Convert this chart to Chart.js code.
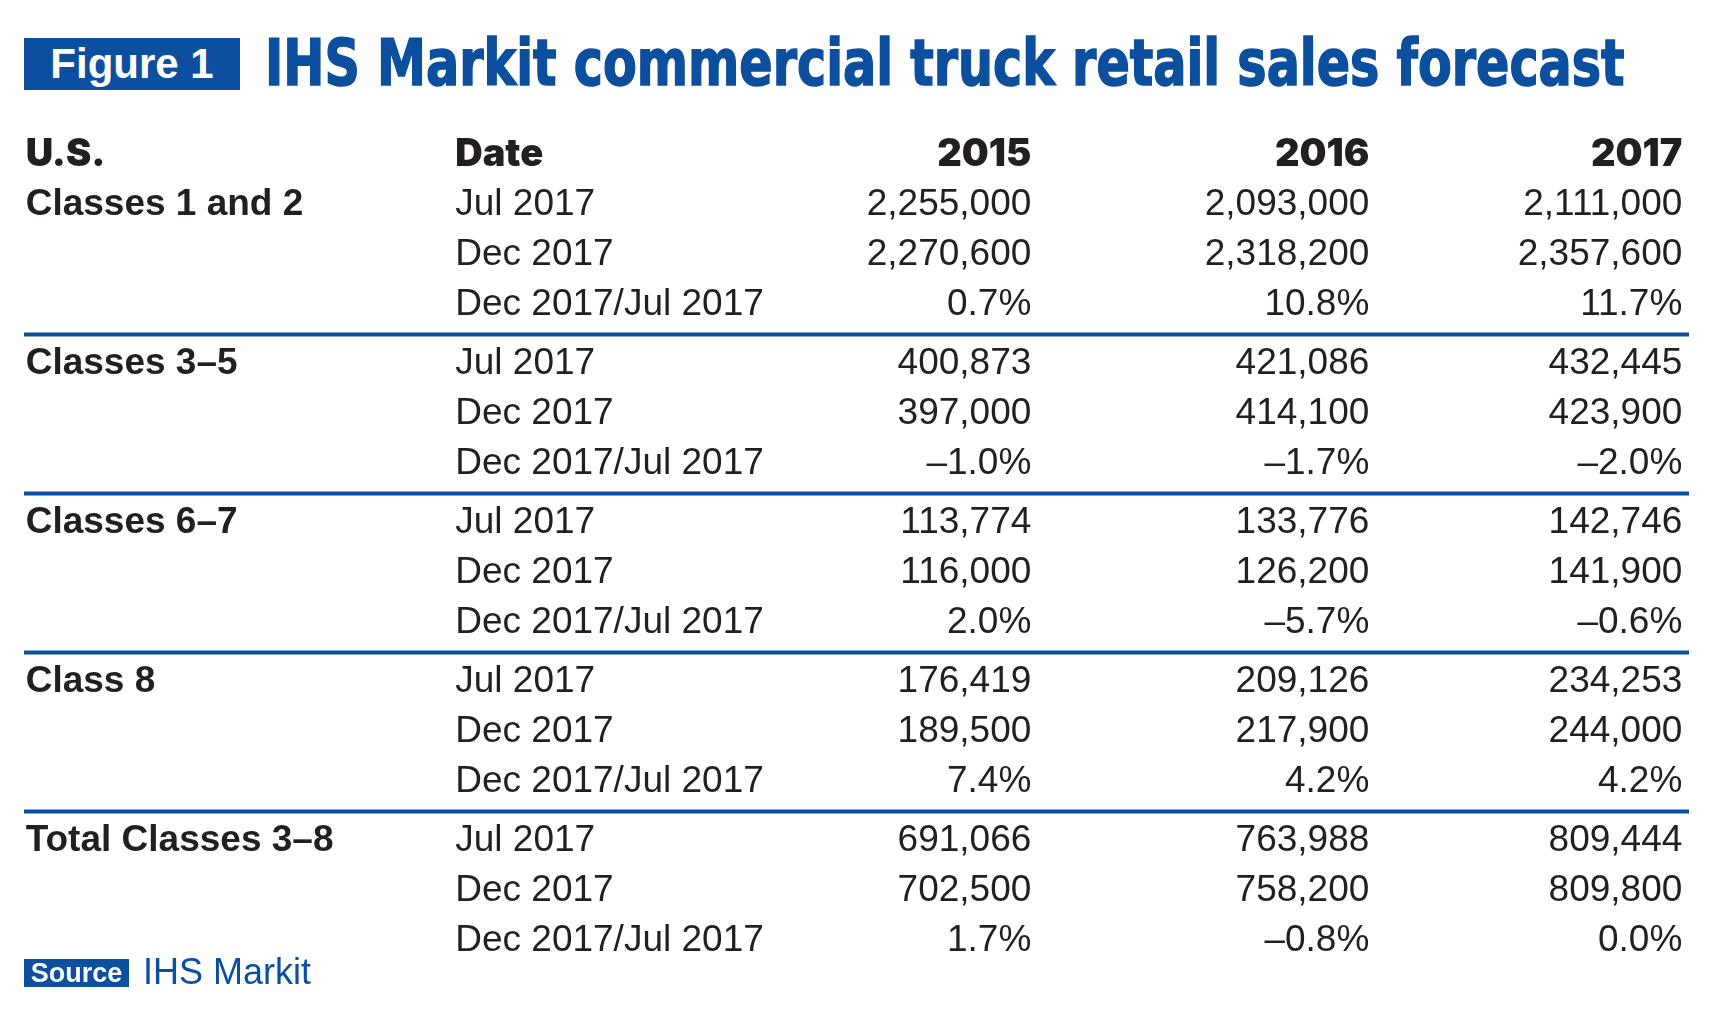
<!DOCTYPE html>
<html>
<head>
<meta charset="utf-8">
<title>IHS Markit commercial truck retail sales forecast</title>
<script src="https://cdn.jsdelivr.net/npm/chart.js@4.4.1/dist/chart.umd.min.js"></script>
<style>
  html, body { margin: 0; padding: 0; background: #fff; }
  #page { position: relative; width: 1710px; height: 1020px; overflow: hidden; }
  #chartBox { position: absolute; left: 0; top: 0; width: 1710px; height: 1020px; }
  .fig {
    position: absolute; left: 24px; top: 38px; width: 216px; height: 52px;
    background: #0b4f9e; color: #fff; text-align: center;
    font: bold 42px "Liberation Sans", Arial, sans-serif; line-height: 52px;
  }
  #title {
    position: absolute; left: 265px; top: 31px; white-space: nowrap;
    font: bold 64px "DejaVu Sans Condensed", "DejaVu Sans", sans-serif; line-height: 64px;
    color: #0b4f9e; -webkit-text-stroke: 1.5px #0b4f9e; transform-origin: 0 0;
  }
  .srcTag {
    position: absolute; left: 24px; top: 959px; width: 105px; height: 28px;
    background: #0b4f9e; color: #fff; text-align: center;
    font: bold 27px "Liberation Sans", Arial, sans-serif; line-height: 28px;
  }
  .srcName {
    position: absolute; left: 143px; top: 952px; color: #0b4f9e;
    font: 36px "Liberation Sans", Arial, sans-serif; line-height: 40px;
  }
</style>
</head>
<body>
<div id="page">
  <div id="chartBox"><canvas id="salesTable"></canvas></div>
  <div class="fig">Figure 1</div>
  <div id="title">IHS Markit commercial truck retail sales forecast</div>
  <div class="srcTag">Source</div>
  <div class="srcName">IHS Markit</div>
</div>
<script>
// table content
const columns = ['U.S.', 'Date', '2015', '2016', '2017'];
const groups = ['Classes 1 and 2', 'Classes 3–5', 'Classes 6–7', 'Class 8', 'Total Classes 3–8'];
const dateRows = ['Jul 2017', 'Dec 2017', 'Dec 2017/Jul 2017'];

// forecast made in Jul 2017, per group: 2015, 2016, 2017
const julForecast = [
    [2255000, 2093000, 2111000],
    [400873, 421086, 432445],
    [113774, 133776, 142746],
    [176419, 209126, 234253],
    [691066, 763988, 809444]
];
// forecast made in Dec 2017
const decForecast = [
    [2270600, 2318200, 2357600],
    [397000, 414100, 423900],
    [116000, 126200, 141900],
    [189500, 217900, 244000],
    [702500, 758200, 809800]
];
// Dec 2017 / Jul 2017 change, %
const changePct = [
    [0.7, 10.8, 11.7],
    [-1.0, -1.7, -2.0],
    [2.0, -5.7, -0.6],
    [7.4, 4.2, 4.2],
    [1.7, -0.8, 0.0]
];

// squeeze the headline into its width
const title = document.getElementById('title');
title.style.transform = 'scaleX(' + (1360 / title.offsetWidth) + ')';

const BLUE = '#0b4f9e';
const INK = '#231f20';
const GAP = 0.18; // extra space between groups, in rows

// column anchors on the 0..1 x scale and how text sits on them
const colAnchor = [0.001, 0.259, 0.605, 0.808, 0.996];
const colAlign = ['left', 'left', 'right', 'right', 'right'];

const headFont = '900 38px Inter, "Liberation Sans", sans-serif';
const groupFont = 'bold 37px "Liberation Sans", Arial, sans-serif';
const bodyFont = '37px "Liberation Sans", Arial, sans-serif';

// header is row 0, data rows follow
function rowPos(r) {
    return r + 1 + Math.floor(r / 3) * GAP;
}
const yMax = rowPos(groups.length * 3 - 1);

function fmtNum(v) {
    return v.toLocaleString('en-US');
}
function fmtPct(v) {
    return (v < 0 ? '–' + Math.abs(v).toFixed(1) : v.toFixed(1)) + '%';
}

// blue rules between groups
const separators = groups.slice(1).map((g, i) => {
    const pos = (rowPos(i * 3 + 2) + rowPos(i * 3 + 3)) / 2;
    return {
        type: 'line',
        data: [{ x: 0, y: pos }, { x: 1, y: pos }],
        borderColor: BLUE,
        borderWidth: 4,
        pointRadius: 0,
        clip: false
    };
});

const tableText = {
    id: 'tableText',
    afterDatasetsDraw(chart) {
        const { ctx, scales: { x, y } } = chart;
        ctx.save();
        ctx.fillStyle = INK;
        ctx.textBaseline = 'middle';
        const put = (txt, col, pos, font) => {
            ctx.font = font;
            ctx.textAlign = colAlign[col];
            ctx.fillText(txt, x.getPixelForValue(colAnchor[col]), y.getPixelForValue(pos));
        };
        columns.forEach((c, i) => put(c, i, 0, headFont));
        groups.forEach((g, gi) => {
            put(g, 0, rowPos(gi * 3), groupFont);
            dateRows.forEach((d, di) => {
                const pos = rowPos(gi * 3 + di);
                put(d, 1, pos, bodyFont);
                const vals = [julForecast, decForecast, changePct][di][gi];
                vals.forEach((v, k) => put(di === 2 ? fmtPct(v) : fmtNum(v), 2 + k, pos, bodyFont));
            });
        });
        ctx.restore();
    }
};

const ctx = document.getElementById('salesTable').getContext('2d');
const salesTable = new Chart(ctx, {
    type: 'line',
    data: { datasets: separators },
    options: {
        responsive: true,
        maintainAspectRatio: false,
        animation: false,
        events: [],
        layout: { padding: { left: 24, right: 21, top: 155, bottom: 79 } },
        plugins: {
            legend: { display: false },
            tooltip: { enabled: false }
        },
        scales: {
            x: { type: 'linear', min: 0, max: 1, display: false },
            y: { type: 'linear', min: 0, max: yMax, reverse: true, display: false }
        }
    },
    plugins: [tableText]
});
</script>
</body>
</html>
